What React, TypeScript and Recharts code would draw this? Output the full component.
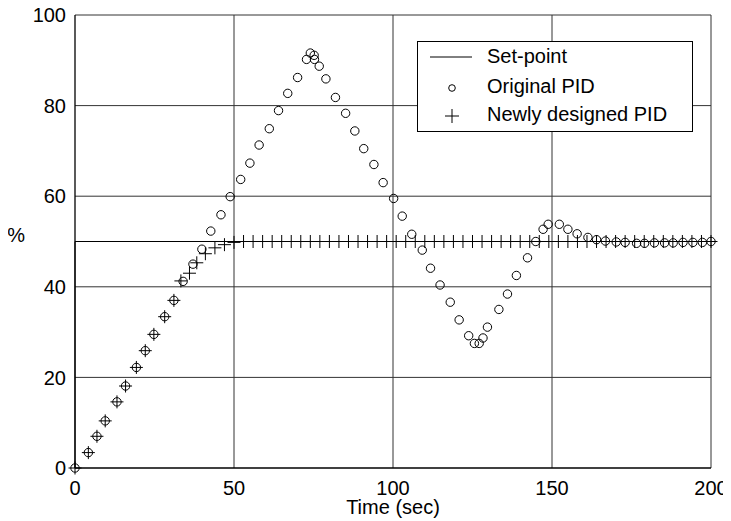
import React from 'react';
import { ScatterChart, Scatter, XAxis, YAxis, CartesianGrid, Legend } from 'recharts';

const setpointT = [0, 0, 200];
const setpointV = [0, 50, 50];

const originalT = [0, 4.2, 6.9, 9.5, 13.2, 15.9, 19.3, 22.1, 24.8, 28.2, 31.1, 34.0, 37.1, 39.9, 42.7, 45.9, 48.8, 52.1, 55.0, 57.9, 61.1, 64.0, 66.9, 70.0, 72.8, 74.0, 75.2, 75.3, 76.8, 78.9, 81.9, 85.1, 88.0, 90.8, 94.0, 96.9, 100.2, 102.9, 105.9, 109.2, 111.8, 114.8, 118.0, 120.8, 123.8, 125.6, 127.1, 128.3, 129.7, 133.3, 136.0, 138.8, 142.3, 144.9, 147.2, 148.8, 152.3, 155.0, 157.9, 161.3, 164.0, 166.8, 170.2, 173.0, 176.6, 179.1, 182.2, 185.4, 188.1, 191.2, 194.3, 197.3, 200.0];
const originalV = [0, 3.4, 7.0, 10.4, 14.6, 18.1, 22.2, 25.9, 29.5, 33.4, 37.0, 41.2, 45.0, 48.3, 52.3, 55.9, 59.9, 63.7, 67.3, 71.3, 74.9, 78.9, 82.7, 86.2, 90.2, 91.6, 91.1, 90.2, 88.7, 85.9, 81.8, 78.3, 74.4, 70.5, 67.0, 63.0, 59.5, 55.6, 51.6, 48.1, 44.1, 40.4, 36.6, 32.7, 29.2, 27.5, 27.5, 28.7, 31.1, 35.0, 38.4, 42.5, 46.4, 50.0, 52.7, 53.8, 53.8, 52.7, 51.7, 50.9, 50.4, 50.1, 49.9, 49.8, 49.6, 49.6, 49.7, 49.7, 49.7, 49.8, 49.8, 49.8, 50.0];

const newT = [0, 4.2, 6.9, 9.5, 13.2, 15.9, 19.3, 22.1, 24.8, 28.2, 31.1, 33.3, 36.0, 38.3, 41.0, 44.0, 47.0, 50.0, 53, 56, 59, 62, 65, 68, 71, 74, 77, 80, 83, 86, 89, 92, 95, 98, 101, 104, 107, 110, 113, 116, 119, 122, 125, 128, 131, 134, 137, 140, 143, 146, 149, 152, 155, 158, 161, 164, 167, 170, 173, 176, 179, 182, 185, 188, 191, 194, 197, 200];
const newV = [0, 3.4, 7.0, 10.4, 14.6, 18.1, 22.2, 25.9, 29.5, 33.4, 37.0, 41.3, 43.0, 45.3, 47.3, 48.6, 49.3, 49.8, 50, 50, 50, 50, 50, 50, 50, 50, 50, 50, 50, 50, 50, 50, 50, 50, 50, 50, 50, 50, 50, 50, 50, 50, 50, 50, 50, 50, 50, 50, 50, 50, 50, 50, 50, 50, 50, 50, 50, 50, 50, 50, 50, 50, 50, 50, 50, 50, 50, 50];

const xTicks = [0, 50, 100, 150, 200];
const yTicks = [0, 20, 40, 60, 80, 100];
const legendLabels = ['Set-point', 'Original PID', 'Newly designed PID'];

const zip = (ts: number[], vs: number[]) => ts.map((t, i) => ({ t, v: vs[i] }));
const setpointData = zip(setpointT, setpointV);
const originalData = zip(originalT, originalV);
const newData = zip(newT, newV);

const FONT = '"Liberation Sans", Arial, Helvetica, sans-serif';

const Circle = (p: any) => (
  <circle cx={p.cx} cy={p.cy} r={4.2} fill="none" stroke="#000" strokeWidth={1} />
);
const Plus = (p: any) => (
  <path d={`M${p.cx - 6.5},${p.cy}h13M${p.cx},${p.cy - 6.5}v13`} stroke="#000" strokeWidth={1} fill="none" />
);
const Nothing = () => <g />;

const LegendBox = () => (
  <svg width={276} height={91} style={{ display: 'block' }}>
    <rect x={0.5} y={0.5} width={275} height={90} fill="#fff" stroke="#000" strokeWidth={1} />
    <line x1={13} x2={55} y1={16} y2={16} stroke="#000" strokeWidth={1} />
    <circle cx={35} cy={47} r={3.3} fill="none" stroke="#000" strokeWidth={1} />
    <path d="M28,75h14M35,68v14" stroke="#000" strokeWidth={1} fill="none" />
    <text x={70} y={22} fontSize={20} fontFamily={FONT} fill="#000">{legendLabels[0]}</text>
    <text x={70} y={52} fontSize={20} fontFamily={FONT} fill="#000">{legendLabels[1]}</text>
    <text x={70} y={80} fontSize={20} fontFamily={FONT} fill="#000">{legendLabels[2]}</text>
  </svg>
);

const PercentLabel = () => (
  <text x={25} y={242} textAnchor="end" fontSize={20} fontFamily={FONT} fill="#000">%</text>
);

export default function App() {
  const tickStyle = { fill: '#000', fontSize: 20, fontFamily: FONT };
  return (
    <div style={{ margin: '-8px 0 0 -8px', width: 731, height: 521 }}>
      <ScatterChart width={731} height={521} margin={{ top: 15, right: 20, bottom: 7, left: 35 }}>
        <CartesianGrid
          stroke="#333"
          strokeWidth={1}
          horizontalValues={[20, 40, 60, 80, 100]}
          verticalValues={[50, 100, 150, 200]}
        />
        <XAxis
          type="number"
          dataKey="t"
          domain={[0, 200]}
          ticks={xTicks}
          tickLine={false}
          tickSize={0}
          tickMargin={13}
          height={46}
          axisLine={{ stroke: '#000', strokeWidth: 1.3 }}
          tick={tickStyle}
          label={{ value: 'Time (sec)', position: 'insideBottom', offset: 0, fill: '#000', fontSize: 20, fontFamily: FONT }}
        />
        <YAxis
          type="number"
          dataKey="v"
          domain={[0, 100]}
          ticks={yTicks}
          tickLine={false}
          tickSize={0}
          tickMargin={9}
          width={40}
          axisLine={{ stroke: '#000', strokeWidth: 1.3 }}
          tick={tickStyle}
          label={PercentLabel}
        />
        <Legend
          layout="vertical"
          align="center"
          verticalAlign="middle"
          wrapperStyle={{ left: 417, top: 41, width: 276, height: 91 }}
          content={() => <LegendBox />}
        />
        <Scatter name="Set-point" data={setpointData} line={{ stroke: '#000', strokeWidth: 1 }} lineType="joint" shape={Nothing} isAnimationActive={false} />
        <Scatter name="Original PID" data={originalData} shape={Circle} isAnimationActive={false} />
        <Scatter name="Newly designed PID" data={newData} shape={Plus} isAnimationActive={false} />
      </ScatterChart>
    </div>
  );
}
